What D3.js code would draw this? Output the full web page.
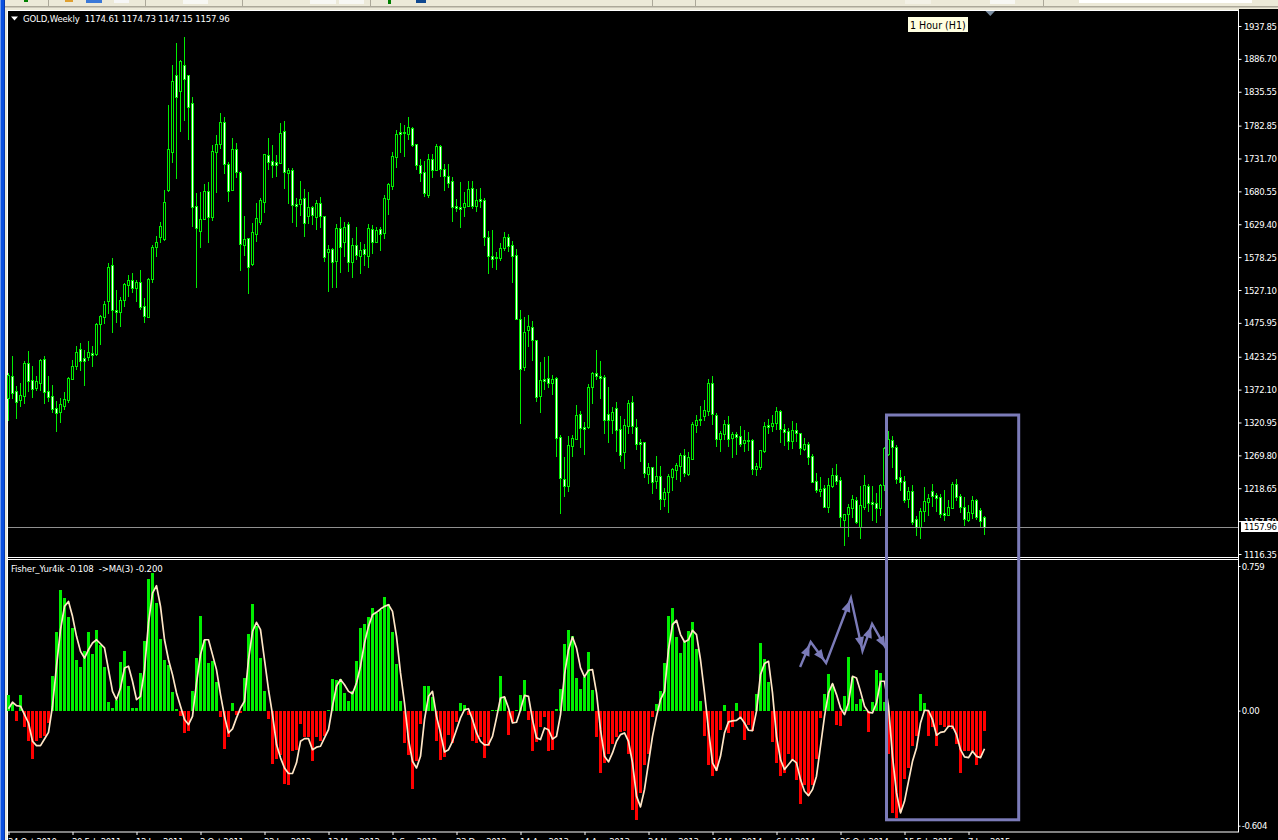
<!DOCTYPE html>
<html><head><meta charset="utf-8">
<script src="https://cdn.jsdelivr.net/npm/d3@7/dist/d3.min.js"></script>
<style>
html,body{margin:0;padding:0;background:#ece9d8;overflow:hidden}
svg{display:block}
text{font-family:"DejaVu Sans Condensed","DejaVu Sans",sans-serif;font-size:9.5px;fill:#fff}
.ax text{letter-spacing:-.38px}
.hd{letter-spacing:-.15px}
</style></head><body><svg id="c" width="1278" height="840"></svg>
<script>
const opens=[1359,1393,1370,1356,1362,1413,1387,1375,1382,1420,
1370,1362,1343,1337,1347,1356,1389,1409,1435,1421,
1423,1429,1428,1474,1485,1510,1566,1496,1493,1511,
1535,1543,1530,1540,1502,1485,1544,1594,1610,1606,
1683,1742,1862,1837,1877,1862,1818,1658,1619,1638,
1681,1641,1742,1754,1788,1723,1683,1746,1711,1597,
1608,1568,1614,1633,1664,1737,1728,1726,1725,1774,
1709,1714,1661,1661,1670,1642,1656,1641,1662,1642,
1586,1591,1572,1624,1602,1630,1571,1597,1580,1591,
1580,1622,1602,1622,1616,1669,1689,1734,1773,1773,
1770,1779,1754,1722,1711,1675,1731,1714,1751,1715,
1704,1697,1658,1656,1656,1658,1686,1658,1669,1667,
1610,1580,1578,1577,1592,1610,1597,1582,1482,1407,
1465,1469,1449,1362,1389,1390,1382,1390,1298,1233,
1222,1284,1295,1334,1314,1314,1376,1398,1393,1392,
1334,1325,1343,1311,1275,1315,1353,1314,1291,1291,
1241,1252,1230,1238,1202,1213,1236,1247,1253,1270,
1241,1264,1317,1326,1331,1339,1382,1333,1295,1303,
1319,1297,1303,1300,1289,1294,1294,1249,1252,1277,
1317,1315,1320,1339,1311,1308,1292,1309,1305,1280,
1287,1269,1230,1214,1219,1189,1222,1239,1231,1169,
1179,1188,1200,1158,1189,1222,1197,1196,1188,1224,
1272,1294,1283,1236,1230,1202,1214,1171,1158,1183,
1197,1214,1208,1205,1180,1177,1188,1225,1207,1189,
1169,1180,1200,1185,1174.61];
const highs=[1398,1424,1378,1382,1417,1432,1409,1393,1420,1424,
1393,1379,1354,1359,1368,1392,1418,1440,1445,1434,
1448,1440,1476,1488,1510,1569,1577,1527,1516,1538,
1550,1554,1543,1558,1515,1546,1597,1611,1633,1683,
1815,1877,1911,1885,1921,1862,1827,1678,1680,1692,
1695,1753,1768,1802,1796,1726,1764,1756,1712,1642,
1608,1631,1662,1670,1739,1764,1753,1737,1787,1790,
1717,1717,1670,1697,1684,1680,1658,1667,1672,1642,
1597,1592,1630,1641,1633,1633,1608,1625,1602,1599,
1630,1628,1625,1625,1675,1694,1742,1776,1787,1784,
1796,1781,1754,1731,1728,1739,1739,1754,1753,1723,
1723,1703,1669,1695,1680,1697,1697,1684,1686,1670,
1619,1620,1586,1600,1617,1614,1603,1591,1496,1485,
1488,1479,1449,1415,1423,1424,1395,1392,1301,1267,
1300,1301,1348,1339,1322,1381,1400,1434,1417,1395,
1376,1345,1353,1331,1326,1356,1362,1326,1295,1291,
1258,1252,1269,1253,1219,1241,1250,1258,1273,1280,
1275,1322,1333,1347,1356,1389,1393,1336,1308,1325,
1331,1306,1306,1315,1309,1306,1295,1258,1278,1322,
1326,1333,1345,1340,1319,1312,1323,1320,1305,1297,
1291,1272,1242,1236,1224,1235,1250,1256,1236,1179,
1194,1208,1205,1222,1239,1225,1222,1211,1225,1283,
1308,1300,1286,1247,1238,1221,1224,1175,1188,1221,
1210,1225,1211,1210,1216,1200,1228,1233,1210,1205,
1193,1207,1202,1188,1174.73];
const lows=[1325,1359,1328,1347,1351,1370,1361,1372,1372,1351,
1354,1337,1308,1322,1342,1353,1389,1404,1403,1379,
1418,1409,1426,1443,1476,1491,1462,1477,1471,1502,
1518,1524,1510,1498,1477,1485,1540,1580,1602,1605,
1681,1726,1701,1774,1792,1762,1627,1532,1594,1638,
1602,1636,1680,1748,1709,1666,1683,1703,1558,1582,
1522,1566,1603,1630,1648,1715,1703,1704,1725,1686,
1662,1633,1627,1644,1611,1631,1630,1622,1625,1572,
1526,1532,1532,1555,1580,1557,1547,1575,1554,1566,
1563,1585,1602,1589,1608,1645,1684,1718,1742,1736,
1762,1751,1715,1697,1673,1672,1703,1714,1704,1683,
1687,1634,1650,1625,1642,1658,1655,1650,1656,1597,
1554,1563,1560,1574,1589,1588,1540,1482,1320,1403,
1440,1418,1354,1337,1373,1376,1365,1269,1180,1207,
1214,1269,1295,1283,1272,1312,1351,1389,1359,1305,
1291,1305,1277,1261,1250,1305,1305,1280,1261,1236,
1227,1211,1219,1186,1191,1182,1216,1233,1230,1238,
1239,1264,1306,1317,1325,1333,1319,1284,1277,1295,
1284,1267,1272,1284,1277,1278,1241,1239,1249,1275,
1305,1308,1311,1291,1286,1280,1281,1292,1272,1278,
1256,1228,1213,1207,1189,1182,1221,1225,1160,1130,
1144,1174,1165,1141,1186,1183,1169,1166,1177,1216,
1270,1252,1227,1216,1197,1189,1163,1146,1141,1168,
1177,1191,1183,1174,1169,1177,1188,1200,1182,1161,
1168,1172,1171,1158,1147.15];
const closes=[1395,1367,1353,1364,1413,1385,1373,1385,1418,1368,
1361,1342,1336,1350,1358,1390,1409,1431,1417,1417,
1431,1426,1474,1487,1505,1563,1496,1493,1511,1536,
1543,1530,1540,1501,1487,1544,1594,1602,1627,1664,
1746,1852,1827,1883,1855,1812,1656,1624,1638,1681,
1641,1743,1754,1788,1723,1681,1746,1711,1599,1606,
1563,1617,1639,1667,1739,1726,1722,1722,1771,1711,
1714,1659,1658,1669,1631,1656,1644,1662,1642,1578,
1591,1571,1624,1594,1625,1571,1597,1582,1589,1583,
1624,1602,1620,1614,1670,1692,1736,1770,1770,1771,
1781,1753,1722,1709,1678,1731,1714,1751,1715,1704,
1694,1656,1655,1653,1662,1684,1658,1667,1666,1610,
1580,1575,1577,1592,1610,1596,1580,1482,1404,1462,
1471,1449,1361,1387,1385,1382,1389,1297,1235,1222,
1286,1297,1333,1312,1311,1376,1398,1393,1390,1325,
1325,1337,1309,1270,1317,1351,1315,1287,1287,1242,
1252,1228,1238,1202,1213,1238,1249,1255,1270,1242,
1267,1319,1325,1325,1340,1382,1334,1295,1305,1319,
1295,1303,1298,1287,1294,1292,1249,1253,1278,1315,
1314,1320,1339,1311,1306,1292,1309,1305,1281,1287,
1267,1228,1216,1217,1189,1224,1239,1230,1174,1179,
1189,1202,1166,1193,1224,1196,1194,1188,1224,1281,
1295,1283,1233,1228,1200,1214,1166,1158,1183,1199,
1203,1207,1203,1179,1177,1189,1225,1205,1189,1171,
1182,1200,1174,1168,1157.96];
const fisher=[.084,.040,-.052,.084,-.084,-.161,-.252,-.157,-.142,-.131,
-.066,.184,.414,.635,.593,.493,.435,.267,.231,.315,
.414,.299,.425,.346,.231,.047,.016,.058,.257,.315,
.131,.016,.016,.199,.365,.692,.724,.566,.378,.267,
.241,.100,.010,-.026,-.115,-.105,.105,.278,.498,.372,
.252,.262,.152,-.031,-.199,-.136,.042,-.021,-.010,.173,
.404,.561,.446,.278,.105,-.042,-.278,-.252,-.231,-.383,
-.393,-.213,-.205,-.068,-.136,-.136,-.262,-.136,-.157,-.131,
.005,.168,.163,.168,.094,.052,.105,.262,.435,.456,
.493,.540,.514,.530,.598,.561,.414,.247,.052,-.168,
-.234,-.414,-.262,-.068,.131,.131,.070,-.157,-.257,-.241,
-.126,-.168,-.058,.042,.031,-.021,-.161,-.168,-.140,-.247,
-.184,.005,.005,.184,.070,-.126,-.061,.005,.084,.163,
-.047,-.213,-.163,-.084,-.035,-.213,-.205,.010,.115,.351,
.425,.393,.173,.115,.178,.309,.110,-.136,-.330,-.273,
-.227,-.175,-.140,-.114,-.105,-.226,-.519,-.572,-.430,-.283,
-.226,-.031,.037,.105,.252,.498,.540,.388,.304,.367,
.420,.467,.325,.052,-.131,-.288,-.341,-.315,-.100,.031,
-.115,-.084,.042,-.037,-.152,-.073,-.105,.089,.357,.273,
.152,-.163,-.273,-.341,-.325,-.226,-.262,-.362,-.488,-.393,
-.446,-.388,-.254,-.037,.089,.194,.140,-.073,-.079,.079,
.283,.175,.037,.063,.005,-.110,.047,.215,.199,.047,
-.226,-.535,-.561,-.533,-.357,-.299,-.184,-.131,.089,.042,
-.131,-.084,-.184,-.073,-.087,-.087,-.096,-.173,-.330,-.210,
-.210,-.210,-.288,-.245,-.108];
const maLine=[.010,.044,.026,.023,-.021,-.065,-.161,-.184,-.184,-.149,
-.114,.023,.233,.425,.547,.573,.495,.390,.311,.276,
.320,.355,.372,.351,.329,.215,.101,.058,.119,.224,
.233,.154,.058,.075,.215,.460,.617,.656,.547,.372,
.267,.189,.093,.023,-.047,-.073,-.030,.145,.294,.372,
.372,.294,.215,.084,-.030,-.117,-.096,-.038,.014,.049,
.267,.416,.463,.425,.267,.110,-.021,-.178,-.248,-.301,
-.330,-.330,-.274,-.161,-.147,-.147,-.205,-.192,-.187,-.143,
-.100,.023,.128,.163,.136,.101,.089,.145,.233,.355,
.442,.503,.516,.533,.547,.556,.521,.390,.198,.040,
-.152,-.266,-.301,-.240,-.047,.075,.101,-.030,-.117,-.217,
-.205,-.161,-.100,-.038,.005,.010,-.047,-.117,-.161,-.180,
-.178,-.135,-.038,.066,.072,.014,-.065,-.061,.005,.080,
.075,-.047,-.143,-.152,-.091,-.100,-.149,-.135,-.021,.189,
.320,.386,.329,.224,.177,.212,.215,.093,-.100,-.240,
-.269,-.222,-.161,-.126,-.117,-.161,-.274,-.449,-.505,-.414,
-.274,-.135,-.030,.058,.101,.320,.451,.474,.399,.360,
.372,.421,.399,.267,.093,-.100,-.274,-.313,-.240,-.117,
-.059,-.054,-.051,-.035,-.065,-.103,-.105,-.003,.189,.247,
.259,.093,-.135,-.257,-.309,-.283,-.257,-.274,-.362,-.423,
-.446,-.414,-.344,-.187,-.030,.093,.142,.084,.014,-.021,
.040,.180,.171,.101,.023,-.009,-.012,.040,.154,.154,
.023,-.240,-.432,-.537,-.476,-.371,-.266,-.196,-.065,.002,
0,-.047,-.129,-.114,-.110,-.082,-.082,-.126,-.205,-.243,
-.247,-.213,-.240,-.247,-.200];
const priceTicks=[1937.85,1886.70,1835.55,1782.85,1731.70,1680.55,1629.40,1578.25,1527.10,1475.95,1423.25,1372.10,1320.95,1269.80,1218.65,1167.50,1116.35];
const fisherTicks=[0.759,0,-0.604];
const fisherTickLabels=["0.759","0.00","-0.604"];
const dateTickBars=[0,16,32,48,64,80,96,112,128,144,160,176,192,208,224,240];
const dateTicks=["24 Oct 2010","20 Feb 2011","12 Jun 2011","2 Oct 2011","22 Jan 2012","13 May 2012","2 Sep 2012","23 Dec 2012","14 Apr 2013","4 Aug 2013","24 Nov 2013","16 Mar 2014","6 Jul 2014","26 Oct 2014","15 Feb 2015","7 Jun 2015"];
const lastPrice=1157.96;
const arrowBars=[197.9,200.55,204.4,210.6,213.5,215.9,219.6];
const arrowValues=[.229,.360,.250,.591,.313,.455,.318];
const boxBars=[219.5,252.55];
const boxTopPrice=1332.6, boxBottomFisher=-.573;

const svg=d3.select("#c");
const W=1278,H=840,axisX=1238.5;
const x=d3.scaleLinear().domain([0,244]).range([8.5,984.5]);
const yP=d3.scaleLinear().domain([1116.35,1937.85]).range([554,26]);
const yF=d3.scaleLinear().domain([-0.604,0.759]).range([825.7,566]);
const up=i=>closes[i]>=opens[i];
const idx=d3.range(opens.length);
const colGreen="#00ee00",colRed="#ff0000",colMA="#ffe6c6",colNote="#7b7bb8";

// window chrome
const r=(a,b,w,h,f)=>svg.append("rect").attr("x",a).attr("y",b).attr("width",w).attr("height",h).attr("fill",f);
r(0,6,W,1.5,"#aca899");
r(0,0,1,H,"#6f9cf0"); r(1,0,3,H,"#0a50e0"); r(4,0,1,H,"#0838a8");
r(7,10,W-7,H-10,"#fff");
r(8,11,W-8,H-11,"#000");
r(axisX+.5,9,W,H,"#000");
[[24,0,4,2,"#008000"],[65,0,8,2,"#e0a030"],[86,0,16,3,"#3a78d8"],[114,0,15,3,"#f6f6f6"],[183,0,25,4,"#f7f7f3"],[310,0,26,4,"#f7f7f3"],[339,0,25,4,"#f7f7f3"],[388,0,3,4,"#008000"],[416,0,10,3,"#104890"],[905,0,26,4,"#f3f1e6"],[990,0,25,4,"#f7f7f3"],[1079,0,173,3,"#fff"]].forEach(d=>r(...d));
[48,145,242,370,652,695,1043].forEach(a=>r(a,0,1,6,"#aca899"));

// candles
const cg=svg.append("g").attr("shape-rendering","crispEdges");
const col=i=>Math.floor(x(i));
cg.selectAll(".w").data(idx).join("rect").attr("class","w")
 .attr("x",col).attr("width",1)
 .attr("y",i=>Math.round(yP(highs[i])))
 .attr("height",i=>Math.max(1,Math.round(yP(lows[i]))-Math.round(yP(highs[i]))+1))
 .attr("fill",colGreen);
const top_=i=>Math.round(yP(Math.max(opens[i],closes[i])));
const bot_=i=>Math.round(yP(Math.min(opens[i],closes[i])));
cg.selectAll(".b").data(idx).join("rect").attr("class","b")
 .attr("x",i=>col(i)-1).attr("width",3)
 .attr("y",top_).attr("height",i=>bot_(i)-top_(i)+1)
 .attr("fill",colGreen);
cg.selectAll(".f").data(idx.filter(i=>bot_(i)-top_(i)>=2)).join("rect").attr("class","f")
 .attr("x",col).attr("width",1)
 .attr("y",i=>top_(i)+1).attr("height",i=>bot_(i)-top_(i)-1)
 .attr("fill",i=>up(i)?"#000":"#fff");

// current price line
svg.append("line").attr("x1",8).attr("x2",axisX).attr("y1",Math.round(yP(lastPrice))+.5).attr("y2",Math.round(yP(lastPrice))+.5).attr("stroke","#909090");

// separators
r(8,557,axisX-8,1,"#fff"); r(8,559,axisX-8,1,"#fff");
r(8,558,axisX-8,1,"#000"); r(8,560,axisX-8,1,"#000");
r(8,832,W,8,"#000");
r(8,831.5,axisX-8+.5,1,"#fff");

// fisher histogram
svg.append("g").attr("shape-rendering","crispEdges").selectAll("rect").data(idx).join("rect")
 .attr("x",i=>x(i)-1.5).attr("width",3)
 .attr("y",i=>fisher[i]>=0?yF(fisher[i]):yF(0))
 .attr("height",i=>Math.abs(yF(fisher[i])-yF(0)))
 .attr("fill",i=>fisher[i]>=0?colGreen:colRed);
// MA line
svg.append("path").datum(idx)
 .attr("d",d3.line().x(i=>x(i)).y(i=>yF(maLine[i])))
 .attr("fill","none").attr("stroke",colMA).attr("stroke-width",1.7).attr("stroke-linejoin","round");

// axes
r(axisX-.5,10,1,822,"#fff");
const pAxis=d3.axisRight(yP).tickValues(priceTicks).tickSize(3).tickPadding(2.5).tickFormat(d3.format(".2f"));
const pg=svg.append("g").attr("class","ax").attr("transform",`translate(${axisX},0)`).call(pAxis);
const fAxis=d3.axisRight(yF).tickValues(fisherTicks).tickSize(2).tickPadding(1.2).tickFormat((d,i)=>fisherTickLabels[i]);
const fg=svg.append("g").attr("class","ax").attr("transform",`translate(${axisX},0)`).call(fAxis);
const tAxis=d3.axisBottom(x).tickValues(dateTickBars).tickSize(3).tickPadding(3.6).tickFormat((d,i)=>dateTicks[i]);
const tg=svg.append("g").attr("class","ax").attr("transform","translate(0,832)").call(tAxis);
[pg,fg,tg].forEach(g=>{g.attr("font-family",null).attr("font-size",null);g.select(".domain").remove();g.selectAll("line").attr("stroke","#fff");g.selectAll("text").attr("fill",null);});
tg.selectAll("text").attr("text-anchor","start").attr("dx",-1);

// last price tag
r(1241,521,37,11,"#fff");
svg.append("text").attr("x",1244).attr("y",526.5).attr("dy","0.33em").style("fill","#000").style("letter-spacing","-.38px").text(d3.format(".2f")(lastPrice));

// headings
svg.append("path").attr("d","M11 16.5h7l-3.5 4z").attr("fill","#fff");
svg.append("text").attr("class","hd").attr("x",23).attr("y",22).attr("xml:space","preserve").text("GOLD,Weekly  1174.61 1174.73 1147.15 1157.96");
svg.append("text").attr("class","hd").attr("x",11).attr("y",572).attr("xml:space","preserve").text("Fisher_Yur4ik -0.108  ->MA(3) -0.200");

// tooltip
r(908,17,60,15,"#ffffe1");
svg.append("text").attr("x",910).attr("y",28.5).style("fill","#000").style("font-size","10.6px").text("1 Hour (H1)");
svg.append("path").attr("d","M985.5 11h9.5l-4.7 5z").attr("fill","#7a8ca0");

// annotations
const box=[x(boxBars[0]),yP(boxTopPrice),x(boxBars[1]),yF(boxBottomFisher)];
svg.append("rect").attr("x",box[0]).attr("y",box[1]).attr("width",box[2]-box[0]).attr("height",box[3]-box[1])
 .attr("fill","none").attr("stroke",colNote).attr("stroke-width",3);
const pts=arrowBars.map((b,i)=>[x(b),yF(arrowValues[i])]);
svg.append("path").attr("d",d3.line()(pts)).attr("fill","none").attr("stroke",colNote).attr("stroke-width",2.4).attr("stroke-linejoin","miter");
svg.selectAll(".h").data(d3.pairs(pts)).join("path").attr("class","h").attr("fill",colNote).attr("d",([a,b])=>{
 const t=Math.atan2(b[1]-a[1],b[0]-a[0]);
 const tip=[b[0]-3*Math.cos(t),b[1]-3*Math.sin(t)];
 const L=11,Wd=4.6;
 const bx=tip[0]-L*Math.cos(t),by=tip[1]-L*Math.sin(t);
 return `M${tip}L${bx-Wd*Math.sin(t)},${by+Wd*Math.cos(t)}L${bx+Wd*Math.sin(t)},${by-Wd*Math.cos(t)}Z`;
});
</script></body></html>
